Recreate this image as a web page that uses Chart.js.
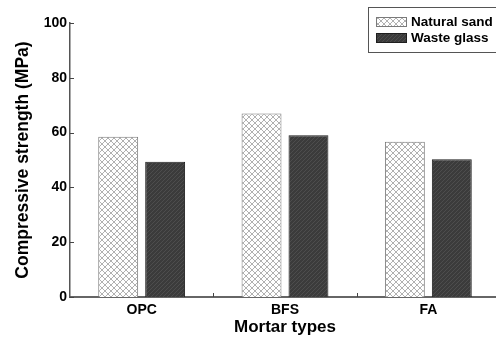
<!DOCTYPE html>
<html><head><meta charset="utf-8">
<script src="https://cdn.jsdelivr.net/npm/chart.js@4"></script>
<style>
html,body{margin:0;padding:0;overflow:hidden;background:#fff;width:496px;height:340px}
#wrap{position:absolute;left:0;top:0;width:504px;height:340px}
</style>
</head><body><div id="wrap"><canvas id="c" width="504" height="340"></canvas></div>
<script>
const categories = ['OPC', 'BFS', 'FA'];
const seriesNames = ['Natural sand', 'Waste glass'];
const naturalSand = [58.5, 67.0, 56.7];
const wasteGlass = [49.4, 59.0, 50.3];
const yTicks = [0, 20, 40, 60, 80, 100];
const yTitle = 'Compressive strength (MPa)';
const xTitle = 'Mortar types';

function crossPattern() {
  const s = 6, cv = document.createElement('canvas');
  cv.width = s; cv.height = s;
  const g = cv.getContext('2d');
  g.fillStyle = '#ffffff'; g.fillRect(0, 0, s, s);
  g.strokeStyle = '#a8a8a8'; g.lineWidth = 0.9;
  g.beginPath();
  g.moveTo(0, 0); g.lineTo(s, s);
  g.moveTo(0, s); g.lineTo(s, 0);
  g.stroke();
  return g.createPattern(cv, 'repeat');
}
function hatchPattern() {
  const s = 4, cv = document.createElement('canvas');
  cv.width = s; cv.height = s;
  const g = cv.getContext('2d');
  g.fillStyle = '#3b3b3b'; g.fillRect(0, 0, s, s);
  g.strokeStyle = '#4d4d4d'; g.lineWidth = 1;
  g.beginPath();
  g.moveTo(0, s); g.lineTo(s, 0);
  g.moveTo(-1, 1); g.lineTo(1, -1);
  g.moveTo(s - 1, s + 1); g.lineTo(s + 1, s - 1);
  g.stroke();
  return g.createPattern(cv, 'repeat');
}
const pats = [crossPattern(), hatchPattern()];
const borders = ['#7a7a7a', '#1e1e1e'];
const FONT = 'Arial, "Liberation Sans", sans-serif';

const innerTicks = {
  id: 'innerTicks',
  afterDraw(chart) {
    const ctx = chart.ctx, y = chart.scales.y, x = chart.scales.x;
    const a = chart.chartArea;
    ctx.save();
    ctx.strokeStyle = '#444'; ctx.lineWidth = 1;
    ctx.beginPath();
    yTicks.forEach(v => {
      const py = Math.round(y.getPixelForValue(v)) + 0.5;
      ctx.moveTo(a.left, py); ctx.lineTo(a.left + 4, py);
    });
    for (let i = 1; i < categories.length; i++) {
      const px = Math.round((x.getPixelForValue(i - 1) + x.getPixelForValue(i)) / 2) + 0.5;
      ctx.moveTo(px, a.bottom); ctx.lineTo(px, a.bottom - 4);
    }
    ctx.stroke();
    ctx.restore();
  }
};

const boxLegend = {
  id: 'boxLegend',
  afterDraw(chart) {
    const ctx = chart.ctx;
    ctx.save();
    ctx.strokeStyle = '#555'; ctx.lineWidth = 1;
    ctx.strokeRect(368.5, 7.5, 132, 45);
    ctx.font = 'bold 13.5px ' + FONT;
    ctx.textBaseline = 'middle';
    ctx.fillStyle = '#000';
    chart.data.datasets.forEach((ds, i) => {
      const yy = 17 + i * 16;
      ctx.fillStyle = ds.backgroundColor;
      ctx.fillRect(376, yy, 31, 10);
      ctx.strokeStyle = ds.borderColor;
      ctx.strokeRect(376.5, yy + 0.5, 30, 9);
      ctx.fillStyle = '#000';
      ctx.fillText(ds.label, 411, yy + 5.5);
    });
    ctx.restore();
  }
};

new Chart(document.getElementById('c'), {
  type: 'bar',
  data: {
    labels: categories,
    datasets: [
      { label: seriesNames[0], data: naturalSand, backgroundColor: pats[0], borderColor: borders[0], borderWidth: 1 },
      { label: seriesNames[1], data: wasteGlass, backgroundColor: pats[1], borderColor: borders[1], borderWidth: 1 }
    ]
  },
  options: {
    responsive: false,
    devicePixelRatio: 1,
    animation: false,
    categoryPercentage: 0.655,
    barPercentage: 0.85,
    layout: { padding: { top: 23, right: 4, left: 0, bottom: 0 } },
    plugins: { legend: { display: false }, tooltip: { enabled: false } },
    scales: {
      x: {
        grid: { display: false, drawTicks: false },
        border: { color: '#666', width: 2 },
        ticks: { color: '#000', font: { family: FONT, size: 14, weight: 'bold' }, padding: 5 },
        title: { display: true, text: xTitle, color: '#000', font: { family: FONT, size: 17, weight: 'bold' }, padding: { top: 0, bottom: 2 } },
        afterFit(s) { s.height = 43; }
      },
      y: {
        min: 0, max: 100,
        afterBuildTicks(s) { s.ticks = yTicks.map(v => ({ value: v })); },
        grid: { display: false, drawTicks: false },
        border: { color: '#555', width: 1.5 },
        ticks: { color: '#000', font: { family: FONT, size: 14, weight: 'bold' }, padding: 3 },
        title: { display: true, text: yTitle, color: '#000', font: { family: FONT, size: 17.5, weight: 'bold' }, padding: { top: 13, bottom: 0 } },
        afterFit(s) { s.width = 70; }
      }
    }
  },
  plugins: [innerTicks, boxLegend]
});
</script>
</body></html>
